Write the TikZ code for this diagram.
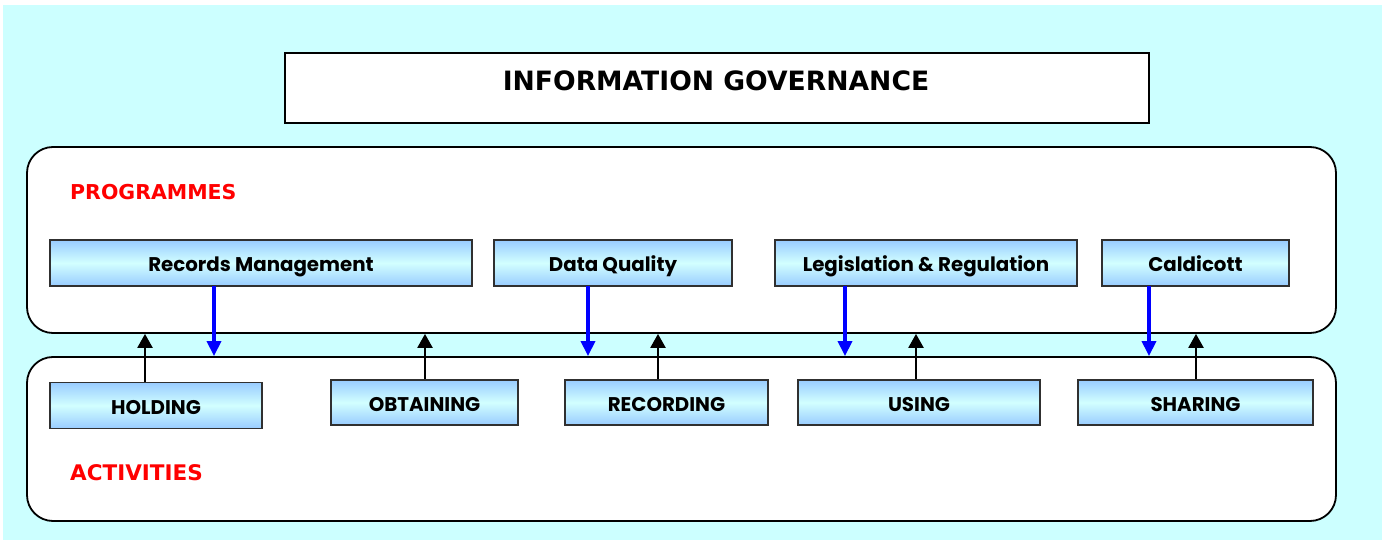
\documentclass[tikz,border=0pt]{standalone}
\usepackage{fontspec}
\usetikzlibrary{arrows.meta}
\newfontfamily\gothicfont{Poppins}
\newfontfamily\verdfont{DejaVu Sans}
\definecolor{skyback}{HTML}{CCFFFF}
\definecolor{boxtop}{HTML}{99CCFF}
\definecolor{boxmid}{HTML}{D2FFFF}
\definecolor{boxedge}{HTML}{303030}
\definecolor{progred}{HTML}{FF0000}
\definecolor{linkblue}{HTML}{0000FF}
\tikzset{
  panel/.style={draw=black, line width=1.8pt, fill=white, rounded corners=26pt},
  itembox/.style={draw=boxedge, line width=1.8pt, top color=boxtop, bottom color=boxtop,
    middle color=boxmid, inner sep=0pt, minimum height=46pt,
    text height=17.5pt, text depth=0pt,
    font=\gothicfont\bfseries\fontsize{19.8}{19.8}\selectfont},
  heading/.style={font=\verdfont\bfseries\fontsize{20.5}{20.5}\selectfont, text=progred, anchor=west, inner sep=0pt},
  uparrow/.style={draw=black, line width=2.4pt, -{Triangle[width=15pt,length=14pt]}},
  downarrow/.style={draw=linkblue, line width=3.4pt, -{Triangle[width=14pt,length=15pt]}, color=linkblue},
}
\begin{document}
\begin{tikzpicture}[x=1pt,y=-1pt]
\useasboundingbox (0,0) rectangle (1382,540);
\fill[white] (0,0) rectangle (1382,540);
\fill[skyback] (3,5) rectangle (1382,540);

% title
\node[draw=black, line width=1.8pt, fill=white, minimum width=864pt, minimum height=70pt, inner sep=0pt] (title) at (717,88) {};
\node[font=\verdfont\bfseries\fontsize{26.6}{26.6}\selectfont, inner sep=0pt] (titletext) at (716,81) {INFORMATION GOVERNANCE};

% the two panels
\node[panel, minimum width=1309pt, minimum height=186pt] (prog) at (681.5,240) {};
\node[panel, minimum width=1309pt, minimum height=164pt] (act) at (681.5,439) {};
\node[heading] (proglabel) at (70,192) {PROGRAMMES};
\node[heading, font=\verdfont\bfseries\fontsize{21.5}{21.5}\selectfont] (actlabel) at (70,473) {ACTIVITIES};

% programme boxes
\node[itembox, minimum width=422pt] (rm) at (261,263) {Records Management};
\node[itembox, minimum width=238pt] (dq) at (613,263) {Data Quality};
\node[itembox, minimum width=302pt] (lr) at (926,263) {Legislation \& Regulation};
\node[itembox, minimum width=187pt] (cal) at (1195.5,263) {Caldicott};

% activity boxes
\node[itembox, minimum width=212pt] (hold) at (156,405.5) {HOLDING};
\node[itembox, minimum width=187pt, minimum height=45pt] (obt) at (424.5,402.5) {OBTAINING};
\node[itembox, minimum width=203pt, minimum height=45pt] (rec) at (666.5,402.5) {RECORDING};
\node[itembox, minimum width=242pt, minimum height=45pt] (use) at (919,402.5) {USING};
\node[itembox, minimum width=235pt, minimum height=45pt] (shr) at (1195.5,402.5) {SHARING};

% connector positions
\coordinate (b1) at (214,0);
\coordinate (b2) at (588,0);
\coordinate (b3) at (845,0);
\coordinate (b4) at (1149,0);
\coordinate (k1) at (145,0);
\coordinate (k2) at (425,0);
\coordinate (k3) at (658,0);
\coordinate (k4) at (916,0);
\coordinate (k5) at (1196,0);

% programmes feed the activities
\draw[downarrow] ([yshift=1pt]rm.south -| b1) -- (act.north -| b1);
\draw[downarrow] ([yshift=1pt]dq.south -| b2) -- (act.north -| b2);
\draw[downarrow] ([yshift=1pt]lr.south -| b3) -- (act.north -| b3);
\draw[downarrow] ([yshift=1pt]cal.south -| b4) -- (act.north -| b4);

% activities report back to the programmes
\draw[uparrow] (hold.north -| k1) -- (prog.south -| k1);
\draw[uparrow] (obt.north -| k2) -- (prog.south -| k2);
\draw[uparrow] (rec.north -| k3) -- (prog.south -| k3);
\draw[uparrow] (use.north -| k4) -- (prog.south -| k4);
\draw[uparrow] (shr.north -| k5) -- (prog.south -| k5);
\end{tikzpicture}
\end{document}
